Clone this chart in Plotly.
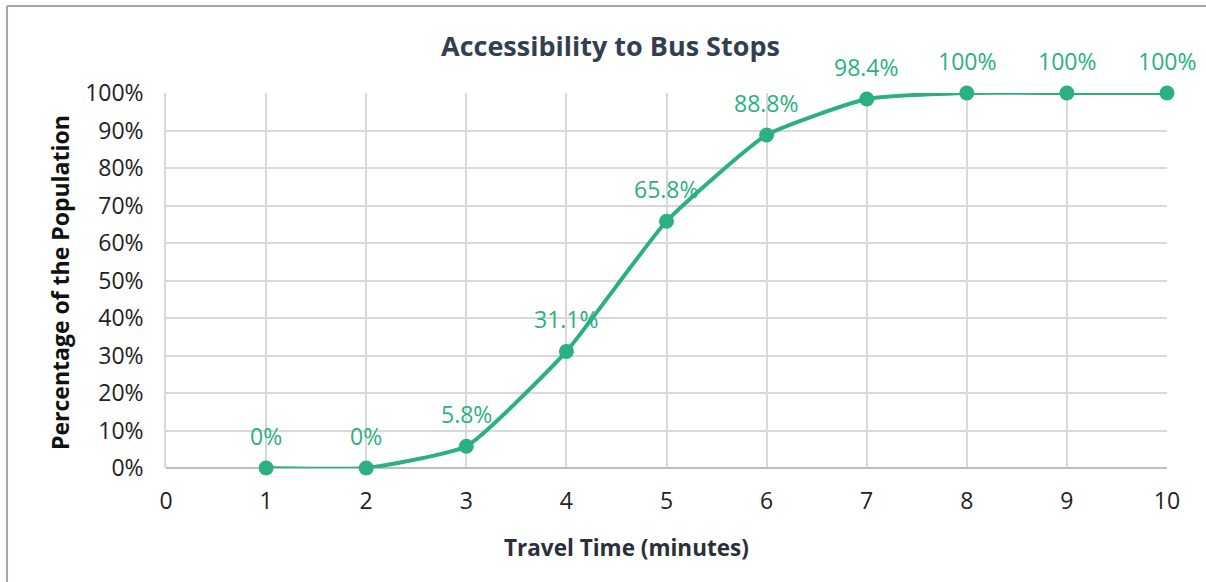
import plotly.graph_objects as go

travel_time = [1, 2, 3, 4, 5, 6, 7, 8, 9, 10]
pct_population = [0.0, 0.0, 0.058, 0.311, 0.658, 0.888, 0.984, 1.0, 1.0, 1.0]
point_labels = ["0%", "0%", "5.8%", "31.1%", "65.8%", "88.8%", "98.4%", "100%", "100%", "100%"]
x_ticks = list(range(0, 11))
y_ticks = [i / 10 for i in range(0, 11)]
y_tick_labels = [f"{i*10}%" for i in range(0, 11)]

GREEN = "#2BB07F"
FONT = "Open Sans"

fig = go.Figure()
fig.add_trace(go.Scatter(
    x=travel_time, y=pct_population, mode="lines+markers",
    line=dict(color=GREEN, width=4, shape="spline", smoothing=0.45),
    marker=dict(color=GREEN, size=15),
    cliponaxis=False, showlegend=False, hoverinfo="skip",
))

for xv, yv, lab in zip(travel_time, pct_population, point_labels):
    fig.add_annotation(x=xv, y=yv, text=lab, showarrow=False, yshift=32,
                       font=dict(family=FONT, size=23, color=GREEN))

fig.update_xaxes(
    range=[0, 10], tickvals=x_ticks, ticktext=[str(v) for v in x_ticks],
    showgrid=True, gridcolor="#D9D9D9", gridwidth=1.5,
    showline=False, zeroline=False,
    ticks="outside", ticklen=12, tickcolor="rgba(0,0,0,0)",
    tickfont=dict(family=FONT, size=23, color="#222222"),
)
fig.update_yaxes(
    range=[0, 1], tickvals=y_ticks, ticktext=y_tick_labels,
    showgrid=True, gridcolor="#D9D9D9", gridwidth=1.5,
    showline=True, linecolor="#D9D9D9", linewidth=1.5, mirror=False,
    zeroline=True, zerolinecolor="#BFBFBF", zerolinewidth=2,
    ticks="outside", ticklen=16, tickcolor="rgba(0,0,0,0)",
    tickfont=dict(family=FONT, size=23, color="#222222"),
)

# titles
fig.add_annotation(xref="paper", yref="paper", x=0.4436, y=1.128, xanchor="center", yanchor="middle",
                   text="<b>Accessibility to Bus Stops</b>",
                   showarrow=False, font=dict(family=FONT, size=27, color="#333F50"))
fig.add_annotation(xref="paper", yref="paper", x=0.4605, y=-0.2107, xanchor="center", yanchor="middle",
                   text="<b>Travel Time (minutes)</b>",
                   showarrow=False, font=dict(family=FONT, size=22.5, color="#2A2F3A"))
fig.add_annotation(xref="paper", yref="paper", x=-0.1059, y=0.496, xanchor="center", yanchor="middle",
                   text="<b>Percentage of the Population</b>",
                   showarrow=False, textangle=-90, font=dict(family=FONT, size=23, color="#111111"))

# outer chart border (top and left)
fig.add_shape(type="line", xref="paper", yref="paper", x0=-0.1588, x1=1.05, y0=1.232, y1=1.232,
              line=dict(color="#A6A6A6", width=2))
fig.add_shape(type="line", xref="paper", yref="paper", x0=-0.1588, x1=-0.1588, y0=-0.31, y1=1.232,
              line=dict(color="#A6A6A6", width=2))

fig.update_layout(
    width=1206, height=582,
    margin=dict(l=166, r=39, t=93, b=114),
    paper_bgcolor="white", plot_bgcolor="white",
    font=dict(family=FONT),
)

fig.write_html("out.html")
